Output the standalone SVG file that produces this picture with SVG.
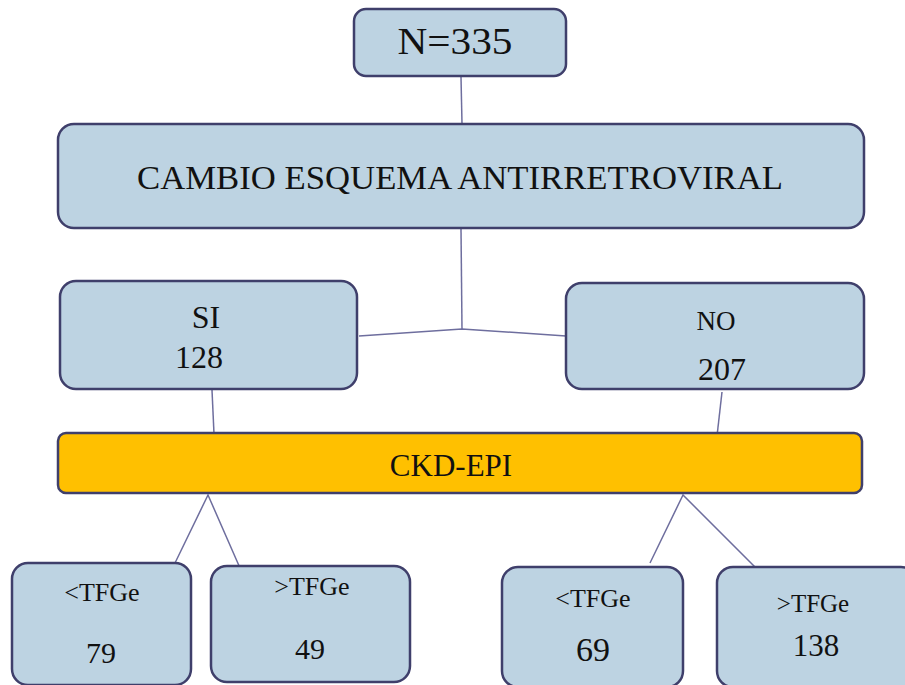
<svg xmlns="http://www.w3.org/2000/svg" width="905" height="685" viewBox="0 0 905 685">
<style>
.box{fill:#BDD3E2;stroke:#3F3F6B;stroke-width:2.5}
.orange{fill:#FFC000;stroke:#3F3F6B;stroke-width:2.5}
.t{font-family:"Liberation Serif","DejaVu Serif",serif;fill:#111;text-anchor:middle}
.c{stroke:#6E6E9E;stroke-width:1.5;fill:none}
</style>
<rect width="905" height="685" fill="#fff"/>
<g id="connectors">
<line class="c" x1="461" y1="77" x2="462" y2="124"/>
<line class="c" x1="461" y1="229" x2="462" y2="329"/>
<polyline class="c" points="359,336 462,329 566,336"/>
<line class="c" x1="212" y1="390" x2="214" y2="434"/>
<line class="c" x1="722" y1="392" x2="717" y2="436"/>
<polyline class="c" points="175,563 208,495 240,568"/>
<polyline class="c" points="650,563 683,495 755,567"/>
</g>
<g id="n335">
<rect class="box" x="354" y="9" width="212" height="67" rx="12"/>
<text class="t" x="455" y="54" font-size="37" textLength="115" lengthAdjust="spacingAndGlyphs">N=335</text>
</g>
<g id="cambio">
<rect class="box" x="58" y="124" width="806" height="104" rx="16"/>
<text class="t" x="460" y="189" font-size="34" textLength="646" lengthAdjust="spacingAndGlyphs">CAMBIO  ESQUEMA ANTIRRETROVIRAL</text>
</g>
<g id="si">
<rect class="box" x="60" y="281" width="297" height="108" rx="16"/>
<text class="t" x="206" y="328" font-size="32">SI</text>
<text class="t" x="199" y="368" font-size="32">128</text>
</g>
<g id="no">
<rect class="box" x="566" y="283" width="298" height="106" rx="16"/>
<text class="t" x="716" y="330" font-size="27">NO</text>
<text class="t" x="722" y="380" font-size="32">207</text>
</g>
<g id="ckd">
<rect class="orange" x="58" y="433" width="804" height="60" rx="8"/>
<text class="t" x="451" y="476" font-size="31">CKD-EPI</text>
</g>
<g id="b1">
<rect class="box" x="12" y="563" width="179" height="122" rx="16"/>
<text class="t" x="102" y="601" font-size="26">&lt;TFGe</text>
<text class="t" x="101" y="663" font-size="30">79</text>
</g>
<g id="b2">
<rect class="box" x="211" y="566" width="199" height="116" rx="16"/>
<text class="t" x="312" y="595" font-size="26">&gt;TFGe</text>
<text class="t" x="310" y="659" font-size="30">49</text>
</g>
<g id="b3">
<rect class="box" x="502" y="567" width="181" height="120" rx="16"/>
<text class="t" x="593" y="607" font-size="26">&lt;TFGe</text>
<text class="t" x="593" y="661" font-size="34">69</text>
</g>
<g id="b4">
<rect class="box" x="717" y="567" width="200" height="120" rx="16"/>
<text class="t" x="813" y="612" font-size="25">&gt;TFGe</text>
<text class="t" x="816" y="656" font-size="31">138</text>
</g>
</svg>
